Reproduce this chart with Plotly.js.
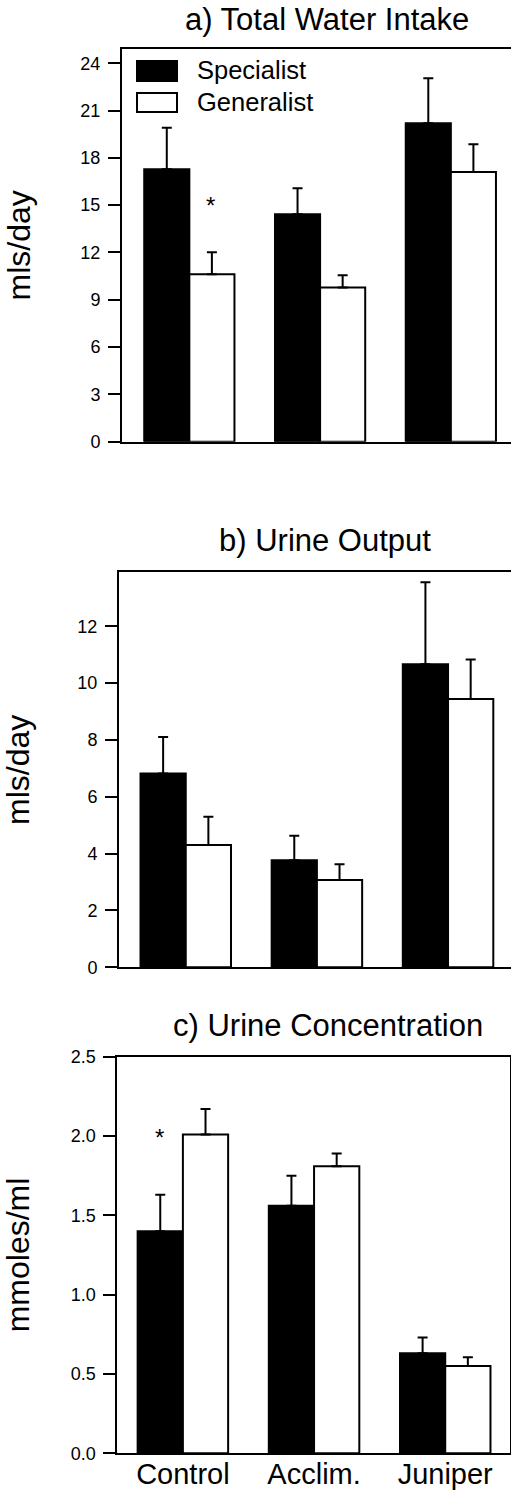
<!DOCTYPE html>
<html><head><meta charset="utf-8">
<script src="https://cdn.plot.ly/plotly-3.0.1.min.js"></script>
<style>html,body{margin:0;padding:0;background:#fff;overflow:hidden}</style>
</head><body><div id="chart" style="width:511px;height:1500px"></div>
<script>
// ---- data ----
const categories = ["Control", "Acclim.", "Juniper"];
const seriesNames = ["Specialist", "Generalist"];
const panelTitles = ["a) Total Water Intake", "b) Urine Output", "c) Urine Concentration"];
const yTitles = ["mls/day", "mls/day", "mmoles/ml"];

const intakeSpecialist   = [17.27, 14.42, 20.19];
const intakeSpecialistSE = [2.64, 1.65, 2.85];
const intakeGeneralist   = [10.61, 9.77, 17.10];
const intakeGeneralistSE = [1.40, 0.78, 1.76];

const urineSpecialist    = [6.82, 3.77, 10.66];
const urineSpecialistSE  = [1.28, 0.86, 2.89];
const urineGeneralist    = [4.30, 3.07, 9.44];
const urineGeneralistSE  = [1.00, 0.56, 1.39];

const concSpecialist     = [1.40, 1.56, 0.63];
const concSpecialistSE   = [0.23, 0.19, 0.10];
const concGeneralist     = [2.01, 1.81, 0.55];
const concGeneralistSE   = [0.16, 0.08, 0.055];

// ---- build ----
const FONT = '"Liberation Sans", Arial, Helvetica, sans-serif';
const zeros = [0, 0, 0];
function barPair(spec, specSE, gen, genSE, ax) {
  const xa = 'x' + ax, ya = 'y' + ax;
  const common = {type: 'bar', x: categories, xaxis: xa, yaxis: ya, showlegend: false,
    hoverinfo: 'skip'};
  return [
    Object.assign({}, common, {name: seriesNames[0], y: spec,
      marker: {color: '#000000', line: {color: '#000000', width: 2}},
      error_y: {type: 'data', symmetric: false, array: specSE, arrayminus: zeros,
        color: '#000000', thickness: 2, width: 5}}),
    Object.assign({}, common, {name: seriesNames[1], y: gen,
      marker: {color: '#ffffff', line: {color: '#000000', width: 2}},
      error_y: {type: 'data', symmetric: false, array: genSE, arrayminus: zeros,
        color: '#000000', thickness: 2, width: 5}})
  ];
}
const data = [].concat(
  barPair(intakeSpecialist, intakeSpecialistSE, intakeGeneralist, intakeGeneralistSE, ''),
  barPair(urineSpecialist, urineSpecialistSE, urineGeneralist, urineGeneralistSE, '2'),
  barPair(concSpecialist, concSpecialistSE, concGeneralist, concGeneralistSE, '3')
);

function xAxis(anchor, domain, range, showLabels) {
  return {anchor: anchor, domain: domain, range: range, type: 'category', showline: true, mirror: true,
    linecolor: '#000', linewidth: 2, ticks: '', showgrid: false, zeroline: false,
    showticklabels: showLabels, ticklabelstandoff: -6,
    tickfont: {family: FONT, size: 29, color: '#000'},
    fixedrange: true};
}
function yAxis(anchor, domain, range, dtick, fmt, title, standoff, mirror) {
  return {anchor: anchor, domain: domain, range: range, dtick: dtick, tick0: 0, tickformat: fmt,
    showline: true, mirror: mirror, linecolor: '#000', linewidth: 2,
    ticks: 'outside', ticklen: 12, tickwidth: 2, tickcolor: '#000',
    showgrid: false, zeroline: false, ticklabelstandoff: 4,
    tickfont: {family: FONT, size: 18, color: '#000'},
    title: {text: title, font: {family: FONT, size: 32, color: '#000'}, standoff: standoff},
    fixedrange: true};
}

const W = 511, H = 1500;
const px = v => v / W, py = v => 1 - v / H;

const annotations = [
  {text: panelTitles[0], x: px(327), y: py(20)},
  {text: panelTitles[1], x: px(325), y: py(540)},
  {text: panelTitles[2], x: px(328), y: py(1025)}
].map(a => Object.assign(a, {xref: 'paper', yref: 'paper', xanchor: 'center', yanchor: 'middle',
  showarrow: false, font: {family: FONT, size: 31, color: '#000'}}));

// significance asterisks
annotations.push({text: '*', xref: 'x', yref: 'y', x: 0.16, y: 15.0, showarrow: false,
  font: {family: FONT, size: 24, color: '#000'}});
annotations.push({text: '*', xref: 'x3', yref: 'y3', x: -0.18, y: 1.99, showarrow: false,
  font: {family: FONT, size: 24, color: '#000'}});

// legend labels
annotations.push({text: seriesNames[0], xref: 'paper', yref: 'paper', x: px(195), y: py(70),
  xanchor: 'left', yanchor: 'middle', showarrow: false, font: {family: FONT, size: 25.5, color: '#000'}});
annotations.push({text: seriesNames[1], xref: 'paper', yref: 'paper', x: px(195), y: py(102),
  xanchor: 'left', yanchor: 'middle', showarrow: false, font: {family: FONT, size: 25.5, color: '#000'}});

const shapes = [
  {type: 'rect', xref: 'paper', yref: 'paper', x0: px(137), x1: px(177), y0: py(81), y1: py(61),
    fillcolor: '#000', line: {color: '#000', width: 2}},
  {type: 'rect', xref: 'paper', yref: 'paper', x0: px(137), x1: px(177), y0: py(112), y1: py(93),
    fillcolor: '#fff', line: {color: '#000', width: 2}}
];

const layout = {
  width: W, height: H,
  margin: {l: 0, r: 0, t: 0, b: 0},
  paper_bgcolor: '#fff', plot_bgcolor: '#fff',
  barmode: 'group', bargap: 0.31, bargroupgap: 0,
  showlegend: false,
  font: {family: FONT, color: '#000'},
  xaxis:  xAxis('y',  [px(122), 1], [-0.515, 2.46], false),
  yaxis:  yAxis('x',  [py(441.7), py(49)], [0, 24.9], 3, '', yTitles[0], 40, false),
  xaxis2: xAxis('y2', [px(119), 1], [-0.509, 2.48], false),
  yaxis2: yAxis('x2', [py(967.3), py(572.3)], [0, 13.9], 2, '', yTitles[1], 41, false),
  xaxis3: xAxis('y3', [px(117.3), px(509.5)], [-0.5, 2.49], true),
  yaxis3: yAxis('x3', [py(1453.3), py(1056.7)], [0, 2.5], 0.5, '.1f', yTitles[2], 37, true),
  annotations: annotations,
  shapes: shapes
};

Plotly.newPlot('chart', data, layout, {displayModeBar: false, staticPlot: true});
</script>
</body></html>
